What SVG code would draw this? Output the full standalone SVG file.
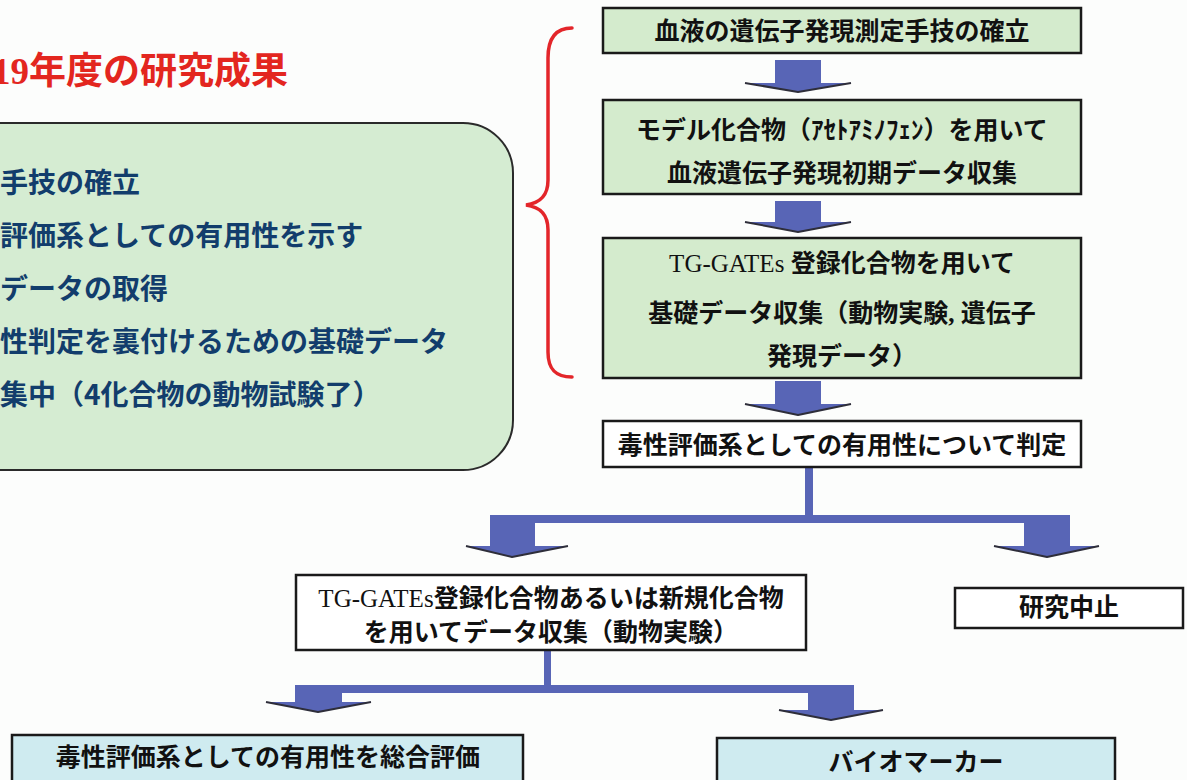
<svg xmlns="http://www.w3.org/2000/svg" width="1187" height="780" viewBox="0 0 1187 780">
<style>
.t{font-family:"Liberation Serif","Noto Sans CJK JP",serif;font-weight:bold;}
.title{font-size:37px;fill:#e3261f;}
.pt{font-size:28px;fill:#123d6c;font-family:"Noto Sans CJK JP",sans-serif;font-weight:bold;}
.ft{font-size:25px;fill:#111;text-anchor:middle;}
.lat{font-weight:normal;}
.gbox{fill:#d4ebcd;stroke:#1a1a1a;stroke-width:2.5;}
.wbox{fill:#ffffff;stroke:#1a1a1a;stroke-width:2.5;}
.cbox{fill:#cfebf0;stroke:#1a1a1a;stroke-width:2.5;}
.arr{fill:#5865b6;}
.shade{fill:none;stroke:#2e2e3a;stroke-width:2;stroke-linejoin:round;}
</style>
<rect width="1187" height="780" fill="#fcfdfc"/>
<g id="title">
<text class="t title" x="-8" y="84">19年度の研究成果</text>
</g>
<g id="results-panel">
<rect x="-60" y="123" width="573" height="347" rx="50" fill="#d5ecd2" stroke="#2a2a2a" stroke-width="2"/>
<text class="pt" x="0" y="193">手技の確立</text>
<text class="pt" x="0" y="246">評価系としての有用性を示す</text>
<text class="pt" x="0" y="299">データの取得</text>
<text class="pt" x="0" y="352">性判定を裏付けるための基礎データ</text>
<text class="pt" x="0" y="405">集中（4化合物の動物試験了）</text>
</g>
<g id="brace">
<path d="M572,28 C556,28 548,38 548,58 L548,180 C548,196 540,203 526,205 C540,207 548,214 548,230 L548,352 C548,370 556,377 572,377" fill="none" stroke="#e3262a" stroke-width="3.5" stroke-linecap="round"/>
</g>
<g id="connectors">
<path class="arr" d="M775,60 H821 V83 H851 L798,92 L745,83 H775 Z"/>
<polyline class="shade" points="745,83 798,92 851,83"/>
<path class="arr" d="M775,201 H821 V222 H851 L798,232 L745,222 H775 Z"/>
<polyline class="shade" points="745,222 798,232 851,222"/>
<path class="arr" d="M775,381 H821 V404 H851 L798,415 L745,404 H775 Z"/>
<polyline class="shade" points="745,404 798,415 851,404"/>
<rect class="arr" x="805" y="467" width="8" height="50"/>
<path class="arr" d="M490,515 H1070 V546 H1099 L1047,557 L994,546 H1024 V523 H535 V546 H568 L512,557 L466,546 H490 Z"/>
<polyline class="shade" points="466,546 512,557 568,546"/>
<polyline class="shade" points="994,546 1047,557 1099,546"/>
<rect class="arr" x="544" y="650" width="7" height="37"/>
<path class="arr" d="M295,685 H854 V710 H883 L831,720 L779,710 H808 V693 H342 V702 H371 L318,712 L266,702 H295 Z"/>
<polyline class="shade" points="266,702 318,712 371,702"/>
<polyline class="shade" points="779,710 831,720 883,710"/>
</g>
<g id="node-blood-method">
<rect class="gbox" x="603" y="8" width="478" height="45"/>
<text class="t ft" x="842" y="40">血液の遺伝子発現測定手技の確立</text>
</g>
<g id="node-model-compound">
<rect class="gbox" x="603" y="100" width="478" height="94"/>
<text class="t ft" x="842" y="139">モデル化合物（ｱｾﾄｱﾐﾉﾌｪﾝ）を用いて</text>
<text class="t ft" x="842" y="182">血液遺伝子発現初期データ収集</text>
</g>
<g id="node-tggates-basic">
<rect class="gbox" x="603" y="238" width="478" height="140"/>
<text class="t ft" x="842" y="272"><tspan class="lat">TG-GATEs</tspan> 登録化合物を用いて</text>
<text class="t ft" x="842" y="322">基礎データ収集（動物実験, 遺伝子</text>
<text class="t ft" x="842" y="365">発現データ）</text>
</g>
<g id="node-judge">
<rect class="wbox" x="603" y="421" width="478" height="46"/>
<text class="t ft" x="842" y="454">毒性評価系としての有用性について判定</text>
</g>
<g id="node-collect">
<rect class="wbox" x="296" y="575" width="510" height="75"/>
<text class="t ft" x="551" y="607"><tspan class="lat">TG-GATEs</tspan>登録化合物あるいは新規化合物</text>
<text class="t ft" x="551" y="641">を用いてデータ収集（動物実験）</text>
</g>
<g id="node-stop">
<rect class="wbox" x="955" y="588" width="228" height="40"/>
<text class="t ft" x="1069" y="616">研究中止</text>
</g>
<g id="node-overall">
<rect class="cbox" x="12" y="735" width="511" height="48"/>
<text class="t ft" x="268" y="766">毒性評価系としての有用性を総合評価</text>
</g>
<g id="node-biomarker">
<rect class="cbox" x="717" y="738" width="398" height="48"/>
<text class="t ft" x="916" y="771">バイオマーカー</text>
</g>
</svg>
